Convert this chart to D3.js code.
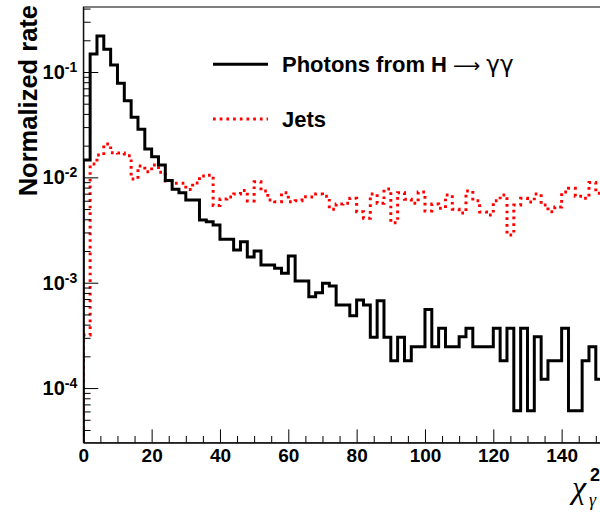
<!DOCTYPE html>
<html><head><meta charset="utf-8">
<script src="https://cdn.jsdelivr.net/npm/d3@7"></script>
<style>body{margin:0;background:#fff}svg{display:block}</style>
</head><body>
<svg id="c" width="600" height="514"></svg>
<script>
// ---- data ----
const binWidth = 2;
const photons = [0.0146,0.148,0.220,0.164,0.1165,0.0781,0.0534,0.0372,0.0286,0.0186,
 0.0157,0.0131,0.00933,0.00771,0.00715,0.00609,0.00609,0.00394,0.00380,0.00353,
 0.00258,0.00258,0.00204,0.00245,0.00175,0.00200,0.00147,0.00147,0.00137,0.00123,
 0.00179,0.00104,0.00104,0.000736,0.000803,0.000986,0.000930,0.000614,0.000614,0.000486,
 0.000685,0.000614,0.000303,0.000675,0.000303,0.000182,0.000303,0.000182,0.000247,0.000247,
 0.000558,0.000247,0.000369,0.000247,0.000247,0.000307,0.000369,0.000247,0.000247,0.000247,
 0.000369,0.000182,0.000369,0.0000609,0.000369,0.0000609,0.000307,0.000121,0.000182,0.000182,
 0.000369,0.0000609,0.0000609,0.000182,0.000247,0.000121];
const jets = [0.000319,0.0134,0.0163,0.0207,0.0171,0.0170,0.0160,0.00964,0.0128,0.0113,
 0.0131,0.0112,0.00923,0.00878,0.00878,0.00767,0.00884,0.0103,0.0105,0.00540,
 0.00623,0.00651,0.00695,0.00750,0.00597,0.00910,0.00742,0.00610,0.00587,0.00715,
 0.00587,0.00600,0.00655,0.00650,0.00695,0.00660,0.00497,0.00558,0.00567,0.00633,
 0.00472,0.00409,0.00695,0.00567,0.00775,0.00371,0.00715,0.00620,0.00567,0.00726,
 0.00480,0.00558,0.00508,0.00680,0.00497,0.00459,0.00742,0.00600,0.00469,0.00439,
 0.00600,0.00680,0.00284,0.00547,0.00633,0.00583,0.00695,0.00547,0.00472,0.00523,
 0.00726,0.00787,0.00660,0.00633,0.00893,0.00706];
const xMajorTicks = [0,20,40,60,80,100,120,140];
const yMajorTicks = [1e-4,1e-3,1e-2,1e-1];
const yTickExponents = ["-4","-3","-2","-1"];
const seriesNames = ["Photons from H", "Jets"];
const yTitle = "Normalized rate";

// ---- layout ----
const svg = d3.select("#c");
const X0 = 83.3, XPX = 3.4167, YB = 442.7, YT = 7;
const x = d3.scaleLinear().domain([0,160]).range([X0, X0 + 160*XPX]);
const y = d3.scaleLog().domain([3.03e-5, 0.414]).range([YB, YT]);
const FONT = "'Liberation Sans', Arial, Helvetica, sans-serif";

svg.append("defs").append("clipPath").attr("id","clip")
  .append("rect").attr("x", X0).attr("y", YT).attr("width", x(160)-X0).attr("height", YB-YT);

// frame
svg.append("rect").attr("x", X0).attr("y", YT).attr("width", x(160)-X0).attr("height", YB-YT)
  .attr("fill","none").attr("stroke","#000").attr("stroke-width",1);

// histograms
function histPoints(vals){
  const ymin = y.domain()[0];
  const pts = [[0, ymin]];
  vals.forEach((v,i)=>{ pts.push([i*binWidth, v]); pts.push([(i+1)*binWidth, v]); });
  pts.push([vals.length*binWidth, ymin]);
  return pts;
}
const line = d3.line().x(d=>x(d[0])).y(d=>y(d[1]));
const plot = svg.append("g").attr("clip-path","url(#clip)");
plot.append("path").attr("d", line(histPoints(jets)))
  .attr("fill","none").attr("stroke","#ff0000").attr("stroke-width",3)
  .attr("stroke-dasharray","2.7 4").attr("stroke-linejoin","miter");
plot.append("path").attr("d", line(histPoints(photons)))
  .attr("fill","none").attr("stroke","#000").attr("stroke-width",3)
  .attr("stroke-linejoin","miter");

// x axis
const xMinor = d3.range(0,161,5).filter(v=>v%20!==0);
const gx = svg.append("g").attr("transform",`translate(0,${YB})`)
  .call(d3.axisBottom(x).tickValues(xMajorTicks).tickSize(-13.3).tickSizeOuter(0).tickPadding(6.3));
svg.append("g").attr("transform",`translate(0,${YB})`)
  .call(d3.axisBottom(x).tickValues(xMinor).tickSize(-6.7).tickSizeOuter(0).tickFormat(""))
  .call(g=>g.select(".domain").remove());
gx.attr("font-family", FONT).attr("font-size", 19).attr("font-weight","bold");

// y axis
const yMinor = [];
for (let k=-5;k<=0;k++) for (let m=2;m<=9;m++){ const v=m*Math.pow(10,k); if (v>=y.domain()[0]*0.999 && v<=y.domain()[1]) yMinor.push(v); }
const gy = svg.append("g").attr("transform",`translate(${X0},0)`)
  .call(d3.axisLeft(y).tickValues(yMajorTicks).tickSize(-15).tickSizeOuter(0).tickPadding(6).tickFormat(()=>"") );
svg.append("g").attr("transform",`translate(${X0},0)`)
  .call(d3.axisLeft(y).tickValues(yMinor).tickSize(-7.3).tickSizeOuter(0).tickFormat(""))
  .call(g=>g.select(".domain").remove());
gy.attr("font-family", FONT).attr("font-size", 20).attr("font-weight","bold");
gy.selectAll(".tick text").each(function(d,i){
  const t = d3.select(this);
  t.append("tspan").text("10");
  t.append("tspan").attr("dy","-0.5em").attr("font-size",14).text(yTickExponents[i]);
});
svg.selectAll(".domain").attr("stroke","#000");
svg.selectAll(".tick line").attr("stroke","#000");

// y title
svg.append("text").attr("transform","translate(37,5) rotate(-90)")
  .attr("text-anchor","end").attr("font-family",FONT).attr("font-weight","bold")
  .attr("font-size",25.5).text(yTitle);

// x title
const xt = svg.append("text").attr("x",572).attr("y",498);
xt.append("tspan").attr("font-family","'Liberation Serif', serif").attr("font-style","italic")
  .attr("font-size",32).text("χ");
svg.append("text").attr("x",590).attr("y",481).attr("font-family",FONT).attr("font-weight","bold")
  .attr("font-size",18).text("2");
svg.append("text").attr("x",589).attr("y",506).attr("font-family","'Liberation Serif', serif")
  .attr("font-style","italic").attr("font-size",18).text("γ");

// legend
const legend = [
  {name: seriesNames[0], color:"#000", dash:null, y:64.3, extra:true},
  {name: seriesNames[1], color:"#ff0000", dash:"2.7 4", y:119, extra:false}
];
legend.forEach(l=>{
  svg.append("line").attr("x1",213).attr("x2",268).attr("y1",l.y).attr("y2",l.y)
    .attr("stroke",l.color).attr("stroke-width",3).attr("stroke-dasharray",l.dash);
  const t = svg.append("text").attr("x",282).attr("y",l.y+8)
    .attr("font-family",FONT).attr("font-weight","bold").attr("font-size",22);
  t.append("tspan").text(l.name);
  if (l.extra){
    t.append("tspan").attr("font-weight","normal").attr("font-family","'DejaVu Sans', sans-serif").attr("font-size",19).text(" ⟶ ");
    t.append("tspan").attr("font-weight","normal").attr("font-family","'DejaVu Sans', sans-serif").attr("font-size",23).text("γγ");
  }
});
</script>
</body></html>
